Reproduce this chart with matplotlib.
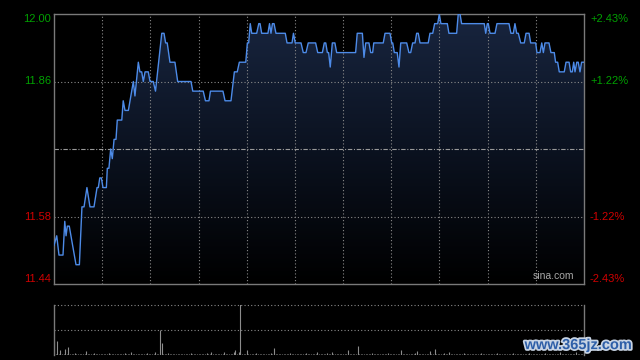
"""
Intraday price chart (sina style): price line with gradient fill on top,
minute volume bars underneath.
"""

import numpy as np
import matplotlib
matplotlib.use("Agg")
import matplotlib.pyplot as plt
from matplotlib.patches import Polygon
from matplotlib.colors import LinearSegmentedColormap
import matplotlib.patheffects as pe

plt.rcParams["font.family"] = ["Liberation Sans", "DejaVu Sans"]

# ---- data (minutes since open, 330-minute session) ----
price_minutes = [
    0, 1.7, 3.1, 5.6, 6.7, 7.5, 8.3, 9.5, 13.7, 15.8, 17.4, 18.7, 20.5, 22.4,
    24.9, 26.8, 27.6, 28.5, 29.5, 30.5, 32.6, 33.2, 34.2, 35.3, 36.3, 37.4,
    38.6, 39.4, 42.2, 43.1, 44.2, 46.3, 48.4, 49.4, 50.4, 52.5, 53.5, 54.6,
    55.6, 56.7, 58.7, 59.8, 61.8, 63.2, 67.1, 67.4, 68.5, 69.5, 70.5, 72.2,
    75.3, 77.0, 85.3, 86.4, 92.9, 94.3, 96.5, 97.4, 105.2, 106.5, 110.2,
    112.3, 114.1, 115.4, 119.4, 120.4, 121.2, 122.2, 123.1, 126.2, 127.5,
    128.3, 129.3, 133.2, 134.2, 135.1, 136.0, 137.0, 138.2, 144.0, 145.1,
    148.2, 149.1, 150.2, 153.8, 155.2, 156.9, 158.3, 162.9, 164.2, 167.1,
    168.3, 169.2, 170.2, 171.0, 172.0, 173.3, 174.9, 176.0, 187.8, 188.8,
    192.0, 193.0, 194.1, 196.1, 197.2, 198.4, 199.1, 205.0, 206.1, 209.2,
    210.3, 210.9, 211.9, 213.7, 214.8, 215.9, 219.6, 221.0, 222.1, 223.3,
    224.8, 225.8, 226.8, 227.9, 233.0, 234.1, 235.8, 237.0, 238.9, 239.9,
    240.9, 244.9, 245.9, 250.7, 251.7, 252.8, 253.8, 267.9, 268.8, 269.8,
    270.4, 271.5, 274.6, 275.8, 283.3, 284.5, 286.0, 287.0, 288.1, 289.1,
    290.6, 292.8, 293.9, 295.8, 296.8, 299.9, 300.7, 302.6, 303.7, 304.7,
    305.7, 308.2, 309.4, 311.5, 312.3, 313.6, 314.6, 317.7, 318.8, 320.7,
    321.7, 322.7, 323.6, 324.4, 325.5, 326.4, 327.5, 328.5, 330,
]
price_values = [
    11.52, 11.54, 11.50, 11.50, 11.57, 11.54, 11.56, 11.56, 11.48, 11.48,
    11.60, 11.60, 11.64, 11.60, 11.60, 11.64, 11.64, 11.66, 11.66, 11.64,
    11.64, 11.68, 11.68, 11.72, 11.70, 11.74, 11.74, 11.78, 11.78, 11.82,
    11.80, 11.80, 11.84, 11.86, 11.83, 11.90, 11.88, 11.88, 11.86, 11.88,
    11.88, 11.86, 11.86, 11.84, 11.96, 11.96, 11.96, 11.94, 11.94, 11.90,
    11.90, 11.86, 11.86, 11.84, 11.84, 11.82, 11.82, 11.84, 11.84, 11.82,
    11.82, 11.88, 11.88, 11.90, 11.90, 11.94, 11.94, 11.98, 11.96, 11.96,
    11.98, 11.98, 11.96, 11.96, 11.98, 11.96, 11.98, 11.98, 11.96, 11.96,
    11.94, 11.94, 11.96, 11.94, 11.94, 11.92, 11.92, 11.94, 11.94, 11.92,
    11.92, 11.94, 11.94, 11.92, 11.92, 11.89, 11.94, 11.94, 11.92, 11.92,
    11.96, 11.96, 11.91, 11.94, 11.94, 11.92, 11.92, 11.94, 11.94, 11.96,
    11.96, 11.94, 11.94, 11.92, 11.92, 11.89, 11.94, 11.94, 11.92, 11.92,
    11.94, 11.94, 11.96, 11.96, 11.94, 11.94, 11.96, 11.96, 11.98, 11.98,
    12.00, 11.98, 11.98, 11.96, 11.96, 12.00, 12.00, 11.98, 11.98, 11.96,
    11.98, 11.98, 11.96, 11.96, 11.98, 11.98, 11.96, 11.96, 11.98, 11.96,
    11.96, 11.94, 11.94, 11.96, 11.96, 11.94, 11.94, 11.92, 11.92, 11.94,
    11.92, 11.94, 11.94, 11.92, 11.92, 11.90, 11.90, 11.88, 11.88, 11.90,
    11.90, 11.88, 11.88, 11.90, 11.88, 11.90, 11.90, 11.88, 11.90, 11.90,
]

# per-minute volume (thousand shares)
volume = [
    150, 10, 140, 10, 50, 10, 10, 60, 10, 80, 10, 15, 10, 20, 10, 10, 15, 10, 10, 10,
    40, 10, 15, 10, 10, 20, 10, 10, 15, 10, 10, 10, 15, 10, 20, 10, 10, 15, 10, 10,
    10, 15, 10, 10, 20, 10, 10, 15, 30, 10, 10, 15, 10, 10, 10, 15, 10, 10, 20, 10,
    10, 15, 10, 30, 10, 15, 250, 120, 15, 10, 10, 20, 10, 10, 15, 10, 10, 10, 15, 10,
    10, 10, 15, 10, 10, 20, 10, 10, 15, 10, 10, 10, 15, 10, 10, 20, 10, 10, 30, 10,
    10, 15, 10, 10, 15, 10, 30, 10, 10, 15, 10, 10, 30, 50, 10, 30, 600, 15, 10, 15,
    50, 10, 10, 15, 10, 10, 20, 10, 10, 15, 10, 10, 15, 10, 10, 20, 10, 70, 10, 10,
    15, 10, 10, 10, 15, 10, 10, 20, 10, 10, 15, 10, 10, 10, 15, 10, 10, 20, 10, 10,
    15, 10, 10, 10, 30, 10, 10, 15, 10, 10, 20, 10, 10, 30, 10, 10, 15, 10, 10, 10,
    15, 10, 10, 50, 10, 10, 15, 10, 10, 90, 10, 15, 10, 10, 10, 15, 10, 10, 20, 10,
    10, 15, 10, 10, 10, 15, 10, 10, 20, 10, 10, 15, 10, 10, 10, 15, 50, 10, 10, 15,
    10, 10, 15, 10, 10, 20, 40, 10, 10, 15, 10, 10, 15, 10, 40, 10, 15, 60, 10, 10,
    15, 10, 10, 20, 10, 10, 30, 10, 15, 10, 10, 10, 15, 10, 10, 20, 10, 10, 15, 10,
    10, 10, 15, 10, 10, 10, 20, 10, 10, 15, 10, 10, 10, 15, 10, 10, 20, 10, 10, 15,
    10, 10, 10, 15, 10, 10, 20, 10, 10, 15, 10, 10, 10, 15, 10, 10, 20, 10, 10, 15,
    10, 10, 15, 10, 10, 10, 20, 10, 10, 15, 10, 10, 10, 15, 10, 30, 10, 10, 15, 10,
    10, 10, 15, 10, 10, 30, 10, 15, 10, 10, 10,
]

prev_close = 11.72
left_ticks = [12.00, 11.86, 11.58, 11.44]
left_labels = ["12.00", "11.86", "11.58", "11.44"]
right_labels = ["+2.43%", "+1.22%", "-1.22%", "-2.43%"]
tick_colors = ["#00a000", "#00a000", "#d00000", "#d00000"]

BORDER = "#7a7a7a"
GRID = "#8a8a8a"

fig = plt.figure(figsize=(6.4, 3.6), dpi=100, facecolor="black")

# ---- price panel ----
ax = fig.add_axes([54 / 640, 76 / 360, 530 / 640, 270 / 360], facecolor="black")
ax.set_xlim(0, 330)
ax.set_ylim(11.44, 12.00)

# gradient fill under the line
verts = [(price_minutes[0], 11.44)] + list(zip(price_minutes, price_values)) + [(price_minutes[-1], 11.44)]
poly = Polygon(verts, facecolor="none", edgecolor="none")
ax.add_patch(poly)
cmap = LinearSegmentedColormap.from_list("fill", ["#000000", "#0b1220", "#18253f"])
grad = np.linspace(0, 1, 256).reshape(-1, 1)
im = ax.imshow(grad, cmap=cmap, origin="lower", aspect="auto",
               extent=[0, 330, 11.44, 12.00], zorder=1)
im.set_clip_path(poly)

# grid
for x in range(30, 330, 30):
    ax.axvline(x, color=GRID, lw=0.8, ls=(0, (1, 2)), zorder=2)
for y in [11.86, 11.58]:
    ax.axhline(y, color=GRID, lw=0.8, ls=(0, (1, 2)), zorder=2)
ax.axhline(prev_close, color="#9a9a9a", lw=0.8, ls=(0, (4, 1.5, 1, 1.5)), zorder=2)

ax.plot(price_minutes, price_values, color="#4d8be8", lw=1.0, zorder=3)

ax.set_xticks([])
ax.set_yticks([])
for s in ax.spines.values():
    s.set_color(BORDER)
    s.set_linewidth(1.0)

# axis labels on both sides
for i, (v, lab, rlab, c) in enumerate(zip(left_ticks, left_labels, right_labels, tick_colors)):
    va = "top" if i == 0 else ("bottom" if i == len(left_ticks) - 1 else "center")
    ax.text(-3 / 530 * 330, v, lab, color=c, fontsize=8, ha="right", va=va)
    ax.text(330 + 6 / 530 * 330, v, rlab, color=c, fontsize=8, ha="left", va=va)

ax.text(0.982, 0.012, "sina.com", transform=ax.transAxes, color="#a8a8a8",
        fontsize=7.5, ha="right", va="bottom", zorder=4)

# ---- volume panel ----
vax = fig.add_axes([54 / 640, 5 / 360, 530 / 640, 50 / 360], facecolor="black")
vax.set_xlim(0, 330)
vax.set_ylim(0, 500)
vax.vlines(np.arange(len(volume)), 0, volume, color="#8c8c8c", lw=0.8)
vax.axhline(250, color=GRID, lw=0.8, ls=(0, (1, 2)))
vax.axhline(500, color=GRID, lw=0.8, ls=(0, (1, 2)), clip_on=False)
vax.set_xticks([])
vax.set_yticks([])
vax.spines["top"].set_visible(False)
vax.spines["bottom"].set_visible(False)
for side in ["left", "right"]:
    vax.spines[side].set_color(BORDER)
    vax.spines[side].set_linewidth(1.0)

# watermark
fig.text(0.988, 0.022, "www.365jz.com", color="#2e5fa8", fontsize=10.5,
         fontweight="bold", ha="right", va="bottom",
         path_effects=[pe.withStroke(linewidth=2.5, foreground="#c8d4e4")])

fig.savefig("out.png", dpi=100, facecolor="black")
